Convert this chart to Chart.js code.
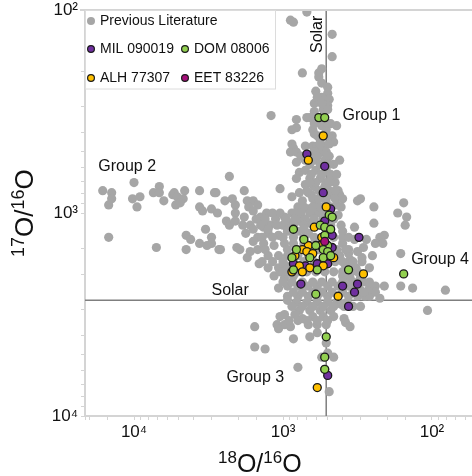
<!DOCTYPE html>
<html>
<head>
<meta charset="utf-8">
<title>Oxygen isotope ratios</title>
<script src="https://cdn.jsdelivr.net/npm/chart.js@4"></script>
<style>
    html, body { margin: 0; padding: 0; background: #fff; }
    canvas { display: block; }
</style>
</head>
<body>
<canvas id="chart" width="472" height="476"></canvas>
<script>
// Values are log10 of the ratio: [18O/16O, 17O/16O]
const previousLiterature = [
    [4.21,2.89],[4.15,2.90],[4.15,2.93],[4.17,2.96],[4.00,2.85],[4.01,2.93],[3.96,2.92],[3.98,2.97],
    [3.87,2.90],[3.83,2.87],[3.83,2.90],[3.80,2.94],[3.74,2.91],[3.73,2.90],[3.66,2.89],[3.71,2.92],
    [3.67,2.93],[3.72,2.96],[3.69,2.95],[3.56,2.89],[3.46,2.90],[3.45,2.90],[3.56,2.97],[3.54,2.99],
    [3.48,2.98],[3.44,3.00],[3.39,2.94],[3.36,2.82],[3.38,3.04],[3.36,3.06],[4.17,3.12],[3.85,3.17],
    [3.65,3.11],[3.62,3.13],[3.65,3.18],[3.56,3.15],[3.52,3.08],[3.48,3.12],[3.48,3.15],[3.51,3.16],
    [3.43,3.18],[3.26,2.89],[3.02,2.88],[3.34,2.93],[3.32,2.96],[3.32,3.00],[3.32,3.04],[3.24,2.94],
    [3.20,2.94],[3.23,2.97],[3.17,2.96],[3.20,2.99],[3.26,3.02],[3.15,3.02],[3.11,3.00],[2.94,2.92],
    [2.89,2.90],[3.27,3.06],[3.25,3.10],[3.13,3.07],[3.09,3.06],[3.05,3.03],[3.02,3.00],[2.99,3.02],
    [2.94,3.00],[2.90,2.97],[2.87,2.94],[2.83,2.90],[3.31,3.17],[3.29,3.18],[3.17,3.18],[3.24,3.22],
    [3.16,3.25],[3.10,3.27],[3.03,3.27],[3.42,3.18],[2.56,3.18],[2.55,3.23],
    [2.95,2.05],[2.93,2.06],[2.84,2.01],[2.67,2.12],[2.67,2.23],[2.87,2.31],[2.74,2.29],[2.76,2.31],
    [2.76,2.33],[2.74,2.36],[2.70,2.38],[2.78,2.40],[2.70,2.41],[2.69,2.44],[2.79,2.46],[2.70,2.47],
    [2.79,2.50],[2.73,2.49],[2.70,2.49],[3.08,2.52],[2.91,2.54],[2.84,2.53],[2.82,2.53],[2.64,2.57],
    [2.91,2.58],[2.94,2.59],[2.80,2.59],[2.79,2.61],[2.67,2.62],[2.66,2.65],[2.94,2.66],[2.93,2.68],
    [2.95,2.70],[2.91,2.70],[2.85,2.67],[2.80,2.67],[2.77,2.67],[2.72,2.67],[2.74,2.70],[2.71,2.70],
    [2.79,2.70],[2.62,2.74],[2.75,2.53],[2.74,2.57],[2.77,2.62],[2.71,2.59],[2.75,2.64],[2.91,2.75],
    [2.89,2.80],[2.91,2.83],[2.65,2.85],[2.63,2.89],[2.50,2.94],[2.85,2.74],[2.79,2.74],[2.72,2.74],
    [2.66,2.76],[2.85,2.79],[2.78,2.79],[2.71,2.79],[2.82,2.83],[2.75,2.83],[2.68,2.83],[2.85,2.86],
    [2.79,2.87],[2.72,2.87],[2.81,2.91],[2.74,2.91],[2.67,2.91],[2.62,2.91],[2.78,2.95],[2.71,2.95],
    [2.64,2.96],[2.83,2.98],[2.77,3.00],[2.68,3.00],[2.63,3.01],[2.89,3.04],[2.82,3.05],[2.95,3.05],
    [3.17,3.12],[3.10,3.10],[3.03,3.11],[2.97,3.09],[2.90,3.09],[2.83,3.10],[2.60,3.09],[3.13,3.15],
    [3.06,3.16],[2.99,3.15],[2.93,3.15],[2.86,3.15],[2.79,3.15],[2.60,3.15],[3.10,3.21],[3.03,3.21],
    [2.97,3.21],[2.90,3.21],[2.83,3.21],[2.62,3.21],[2.56,3.20],[2.98,3.26],[2.91,3.26],[2.58,3.26],
    [2.51,3.27],[3.06,3.31],[2.99,3.32],[2.93,3.31],[2.55,3.32],[2.48,3.32],[2.60,3.31],[3.03,3.37],
    [2.97,3.36],[2.90,3.36],[2.83,3.36],[2.77,3.36],[2.70,3.36],[2.63,3.36],[2.56,3.36],[2.50,3.36],
    [2.97,3.41],[2.90,3.41],[2.83,3.41],[2.77,3.41],[2.70,3.41],[2.63,3.41],[2.56,3.41],[2.50,3.41],
    [2.42,3.41],[2.42,3.27],[2.47,3.22],[2.47,3.24],[2.42,3.37],[2.38,3.36],[2.32,3.36],[2.45,3.41],
    [2.35,3.42],[2.48,3.38],[2.48,3.46],[2.19,2.95],[2.39,2.97],[2.23,3.00],[2.17,3.02],[2.18,3.06],
    [2.39,3.05],[2.32,3.11],[2.35,3.12],[2.38,3.15],[2.33,3.15],[2.44,3.13],[2.46,3.17],[2.40,3.21],
    [2.21,3.20],[2.21,3.36],[2.13,3.37],[1.91,3.38],[2.03,3.48],[2.48,2.93],[2.52,3.13],[2.50,3.19],
    [2.52,3.07],[2.97,3.43],[2.91,3.44],[2.84,3.44],[2.77,3.44],[2.70,3.44],[2.64,3.44],[2.57,3.44],
    [2.89,3.48],[2.82,3.48],[2.75,3.48],[2.68,3.48],[2.92,3.50],[2.87,3.52],[2.80,3.51],[2.73,3.51],
    [2.66,3.51],[2.83,3.55],[2.77,3.55],[2.71,3.55],[2.77,3.59],[2.82,3.61],[2.59,3.52],[2.58,3.54],
    [2.55,3.56],[2.61,3.45],[2.99,3.50],[3.02,3.51],[3.19,3.56],[3.04,3.55],[2.99,3.55],[3.03,3.57],
    [2.95,3.56],[2.93,3.62],[2.71,3.64],[3.19,3.66],[3.12,3.67],[2.66,3.71],[2.70,3.69],[2.74,3.71],
    [2.90,3.76],[2.72,3.77],[2.69,3.88],
    // dense core, where the dots overlap into one blob
    [2.74,2.43],[2.77,2.43],[2.74,2.46],[2.79,2.56],[2.70,2.56],[2.68,2.56],[2.74,2.62],[2.70,2.62],
    [2.75,2.66],[2.69,2.66],[2.82,2.72],[2.77,2.72],[2.69,2.72],[2.88,2.72],[2.82,2.76],[2.75,2.76],
    [2.69,2.76],[2.81,2.81],[2.74,2.81],[2.68,2.81],[2.64,2.81],[2.78,2.85],[2.71,2.85],[2.82,2.85],
    [2.69,2.85],[2.76,2.89],[2.69,2.89],[2.84,2.89],[2.65,2.89],[2.80,2.93],[2.76,2.93],[2.71,2.93],
    [2.65,2.93],[2.60,2.93],[2.75,2.97],[2.68,2.97],[2.80,2.97],[2.86,2.97],[2.61,2.97],[2.82,3.00],
    [2.72,3.00],[2.88,3.00],[2.92,3.00],[3.07,3.00],[2.79,3.03],[2.73,3.03],[2.66,3.03],[2.85,3.03],
    [2.92,3.03],[2.98,3.03],[3.12,3.03],[3.18,3.03],[2.79,3.06],[2.68,3.06],[2.86,3.06],[2.93,3.06],
    [3.00,3.06],[3.04,3.06],[3.15,3.06],[3.22,3.06],[2.61,3.06],[3.20,3.08],[3.10,3.08],[2.97,3.08],
    [2.86,3.08],[3.14,3.12],[3.07,3.12],[3.00,3.12],[2.93,3.12],[2.86,3.12],[2.79,3.12],[2.72,3.12],
    [2.66,3.12],[2.60,3.12],[2.56,3.12],[3.20,3.14],[3.12,3.18],[2.97,3.18],[2.90,3.18],[2.83,3.18],
    [2.76,3.18],[2.70,3.18],[2.64,3.18],[2.58,3.18],[3.22,3.19],[3.14,3.24],[3.07,3.24],[3.00,3.24],
    [2.93,3.24],[2.86,3.24],[2.79,3.24],[2.72,3.24],[2.65,3.24],[2.60,3.24],[2.53,3.24],[3.02,3.29],
    [3.00,3.29],[2.96,3.29],[2.90,3.29],[2.84,3.29],[2.78,3.29],[2.72,3.29],[2.66,3.29],[2.60,3.29],
    [2.54,3.29],[2.50,3.29],[3.00,3.34],[2.94,3.34],[2.87,3.34],[2.80,3.34],[2.74,3.34],[2.67,3.34],
    [2.60,3.34],[2.53,3.34],[2.46,3.34],[2.42,3.34],[2.93,3.39],[2.87,3.39],[2.80,3.39],[2.74,3.39],
    [2.67,3.39],[2.60,3.39],[2.53,3.39],[2.46,3.39],[2.38,3.39],[2.94,3.46],[2.87,3.46],[2.80,3.46],
    [2.73,3.46],[2.66,3.46],[2.59,3.46],[2.53,3.46],[2.96,3.53],[2.84,3.53],[2.77,3.53],[2.70,3.53],[2.90,3.53]
];
const mil090019 = [
    [2.84,2.71],[2.72,2.77],[2.73,2.90],[2.68,2.98],[2.72,3.04],[2.49,3.12],[2.67,3.11],[2.67,3.17],[2.93,3.25],
    [2.85,3.26],[2.77,3.25],[2.70,3.25],[2.88,3.35],[2.60,3.36],[2.50,3.35],[2.52,3.39],[2.56,3.46],[2.70,3.80]
];
const dom08006 = [
    [2.76,2.53],[2.72,2.53],[2.69,3.01],[2.67,3.02],[2.93,3.08],[2.75,3.06],[2.72,3.07],[2.68,3.08],[2.72,3.11],
    [2.86,3.13],[2.78,3.16],[2.70,3.16],[2.91,3.18],[2.73,3.18],[2.70,3.19],[2.94,3.22],[2.82,3.22],[2.73,3.22],
    [2.68,3.21],[2.77,3.28],[2.93,3.28],[2.56,3.28],[2.19,3.30],[2.78,3.40],[2.71,3.61],[2.72,3.71],[2.72,3.77]
];
const alh77307 = [
    [2.73,2.62],[2.83,2.74],[2.71,2.97],[2.79,3.07],[2.74,3.12],[2.83,3.16],[2.75,3.16],[2.87,3.18],[2.84,3.19],[2.80,3.20],
    [2.92,3.21],[2.66,3.22],[2.89,3.26],[2.82,3.27],[2.73,3.26],[2.87,3.29],[2.94,3.29],[2.46,3.30],[2.63,3.41],[2.77,3.86]
];
const eet83226 = [[2.72,3.14]];

const solarX = 2.71;
const solarY = 3.43;
const xRange = [1.7315, 4.329];
const yRange = [2, 4];
const decadeTicks = [100, 1000, 10000];
const decadeLabels = ['10²', '10³', '10⁴'];
const groupLabels = [
    ['Group 1', 2.60, 2.52],
    ['Group 2', 4.24, 2.77],
    ['Group 3', 3.38, 3.81],
    ['Group 4', 2.14, 3.23],
    ['Solar', 3.48, 3.38]
];

const FONT = '"Liberation Sans", Arial, sans-serif';

function toPoints(list) {
    return list.map(p => ({ x: Math.pow(10, p[0]), y: Math.pow(10, p[1]) }));
}

function tickLabel(value) {
    const i = decadeTicks.indexOf(Math.round(value));
    return i >= 0 ? decadeLabels[i] : '';
}

function sampleSet(label, data, color, order) {
    return {
        label: label,
        data: toPoints(data),
        backgroundColor: color,
        borderColor: '#1a1a1a',
        borderWidth: 1.3,
        pointRadius: 4,
        order: order
    };
}

function fixArea(s) {
    s.paddingLeft = 0;
    s.paddingRight = 0;
    s.paddingTop = 0;
    s.paddingBottom = 0;
}

// Draws 18O/16O style text left to right from (0, 0) with raised isotope numbers
function drawIsotopeTitle(ctx, isotope, size) {
    let pos = 0;
    [[isotope, 1], ['O/', 0], ['16', 1], ['O', 0]].forEach(part => {
        ctx.font = (part[1] ? Math.round(size * 0.68) : size) + 'px ' + FONT;
        ctx.fillText(part[0], pos, part[1] ? -9 : 0);
        pos += ctx.measureText(part[0]).width;
    });
}

// Frame top, axis titles, solar / group labels and the boxed legend
const annotations = {
    id: 'annotations',
    afterDraw(chart) {
        const { ctx, scales: { x, y }, chartArea: area } = chart;
        ctx.save();

        ctx.strokeStyle = '#d4d4d4';
        ctx.lineWidth = 2;
        ctx.beginPath();
        ctx.moveTo(area.left - 5, area.top);
        ctx.lineTo(area.right, area.top);
        ctx.stroke();

        ctx.fillStyle = '#111';
        ctx.textAlign = 'left';
        ctx.textBaseline = 'alphabetic';
        ctx.save();
        ctx.translate(218, 472);
        drawIsotopeTitle(ctx, '18', 25);
        ctx.restore();
        ctx.save();
        ctx.translate(33, 257);
        ctx.rotate(-Math.PI / 2);
        drawIsotopeTitle(ctx, '17', 26);
        ctx.restore();

        ctx.font = '16px ' + FONT;
        ctx.textBaseline = 'middle';
        groupLabels.forEach(g => {
            ctx.fillText(g[0], x.getPixelForValue(Math.pow(10, g[1])), y.getPixelForValue(Math.pow(10, g[2])));
        });

        // vertical Solar label
        ctx.save();
        ctx.translate(x.getPixelForValue(Math.pow(10, 2.77)), y.getPixelForValue(Math.pow(10, 2.12)));
        ctx.rotate(-Math.PI / 2);
        ctx.textAlign = 'center';
        ctx.fillText('Solar', 0, 0);
        ctx.restore();

        // Legend box
        ctx.fillStyle = '#fff';
        ctx.strokeStyle = '#dcdcdc';
        ctx.lineWidth = 1;
        ctx.fillRect(area.left, area.top + 1, 190, 78);
        ctx.strokeRect(area.left + 0.5, area.top + 0.5, 190, 78.5);

        const slots = [[91, 21], [91, 49], [185, 49], [91, 78], [185, 78]];
        const sets = chart.data.datasets.filter(d => d.inLegend);
        ctx.font = '14px ' + FONT;
        sets.forEach(d => {
            const s = slots[d.inLegend - 1];
            ctx.beginPath();
            ctx.arc(s[0], s[1], d.inLegend === 1 ? 4 : 3.4, 0, Math.PI * 2);
            ctx.fillStyle = d.backgroundColor;
            ctx.fill();
            if (d.inLegend > 1) {
                ctx.strokeStyle = '#1a1a1a';
                ctx.lineWidth = 1.2;
                ctx.stroke();
            }
            ctx.fillStyle = '#111';
            ctx.fillText(d.label, s[0] + 9, s[1]);
        });
        ctx.restore();
    }
};

function init() {
    const literature = {
        label: 'Previous Literature',
        data: toPoints(previousLiterature),
        backgroundColor: '#a6a6a6',
        borderWidth: 0,
        pointRadius: 4.6,
        order: 6,
        inLegend: 1
    };
    const datasets = [
        literature,
        Object.assign(sampleSet('MIL 090019', mil090019, '#7030a0', 5), { inLegend: 2 }),
        Object.assign(sampleSet('DOM 08006', dom08006, '#92d050', 2), { inLegend: 3 }),
        Object.assign(sampleSet('ALH 77307', alh77307, '#ffc000', 3), { inLegend: 4 }),
        Object.assign(sampleSet('EET 83226', eet83226, '#a50f7a', 1), { inLegend: 5 }),
        {
            label: 'Solar 18O',
            data: toPoints([[solarX, yRange[0]], [solarX, yRange[1]]]),
            showLine: true,
            borderColor: '#7f7f7f',
            borderWidth: 1.5,
            pointRadius: 0,
            order: 7
        },
        {
            label: 'Solar 17O',
            data: toPoints([[xRange[0], solarY], [xRange[1], solarY]]),
            showLine: true,
            borderColor: '#7f7f7f',
            borderWidth: 1.5,
            pointRadius: 0,
            order: 7
        }
    ];

    new Chart(document.getElementById('chart').getContext('2d'), {
        type: 'scatter',
        data: { datasets: datasets },
        plugins: [annotations],
        options: {
            responsive: false,
            animation: false,
            layout: { autoPadding: false, padding: { top: 10, right: 0, bottom: 0, left: 0 } },
            plugins: { legend: { display: false }, tooltip: { enabled: false } },
            scales: {
                x: {
                    type: 'logarithmic',
                    reverse: true,
                    min: Math.pow(10, xRange[0]),
                    max: Math.pow(10, xRange[1]),
                    afterFit: s => { s.height = 60; fixArea(s); },
                    border: { color: '#d4d4d4', width: 2 },
                    grid: { drawOnChartArea: false, color: '#d4d4d4', tickLength: 4 },
                    ticks: {
                        color: '#111',
                        font: { family: FONT, size: 17 },
                        maxRotation: 0,
                        autoSkip: false,
                        padding: 2,
                        callback: tickLabel
                    }
                },
                y: {
                    type: 'logarithmic',
                    reverse: true,
                    min: Math.pow(10, yRange[0]),
                    max: Math.pow(10, yRange[1]),
                    afterFit: s => { s.width = 85; fixArea(s); },
                    border: { color: '#d4d4d4', width: 2 },
                    grid: { drawOnChartArea: false, color: '#d4d4d4', tickLength: 4 },
                    ticks: {
                        color: '#111',
                        font: { family: FONT, size: 17 },
                        autoSkip: false,
                        padding: 3,
                        callback: tickLabel
                    }
                }
            }
        }
    });
}

init();
</script>
</body>
</html>
